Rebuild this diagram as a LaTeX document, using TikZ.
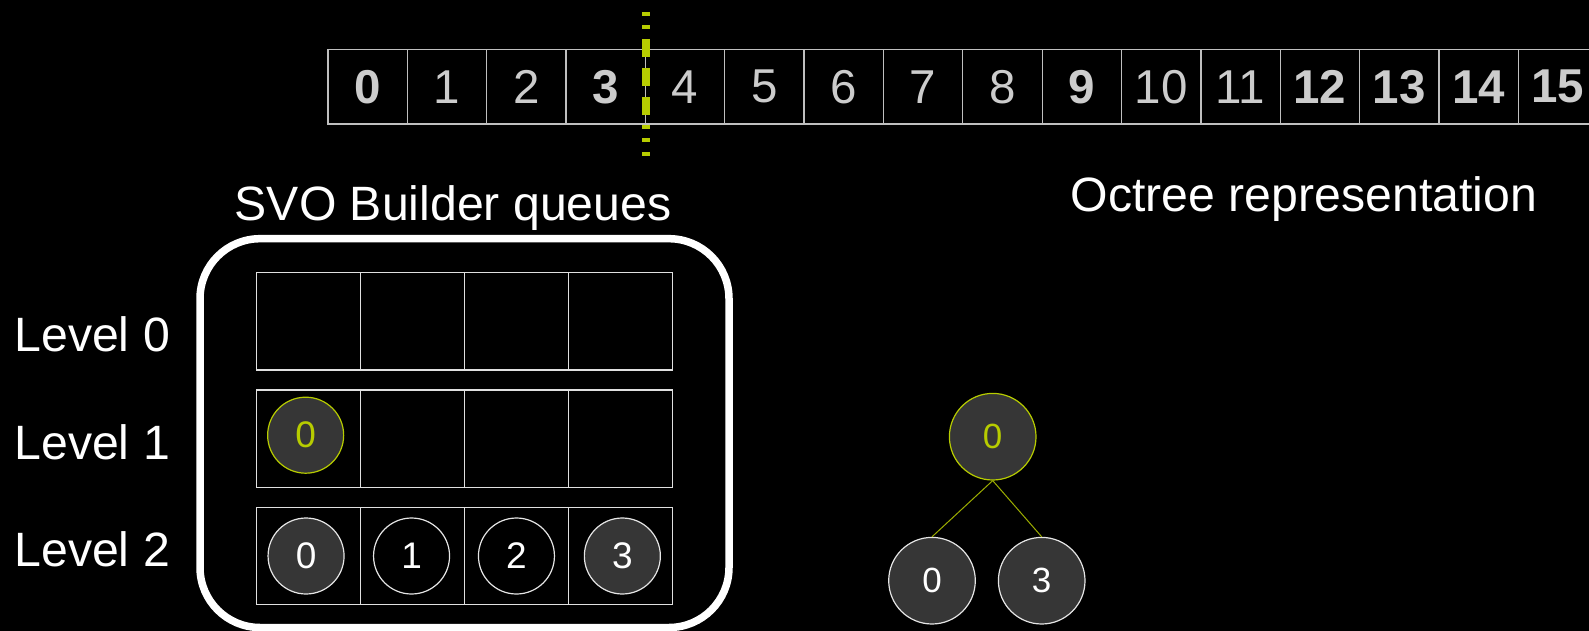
\documentclass[tikz,border=0pt]{standalone}
\usepackage{fontspec}
\setmainfont{Liberation Sans}
\definecolor{vgreen}{RGB}{183,204,0}
\definecolor{ballgray}{RGB}{54,54,54}
\definecolor{numgray}{RGB}{204,204,204}
\newcommand{\stripfont}{\fontsize{47.5}{56}\selectfont}
\newcommand{\titlefont}{\fontsize{48.2}{57}\selectfont}
\newcommand{\ballfont}{\fontsize{37}{44}\selectfont}
\tikzset{
  slot/.style={draw=white!75!black, line width=1.3pt, minimum width=79.35pt,
    minimum height=74.7pt, inner sep=0pt, text=numgray, font=\stripfont},
  numbold/.style={font=\stripfont\bfseries},
  qcell/.style={draw=white!88!black, line width=1.4pt, minimum width=103.9pt,
    minimum height=97.5pt, inner sep=0pt},
  ball/.style={circle, draw=white!90!black, line width=1.2pt, minimum size=76pt,
    inner sep=0pt, text=white, font=\ballfont},
  ballfill/.style={fill=ballgray},
  lit/.style={draw=vgreen, text=vgreen},
  octnode/.style={ball, ballfill, minimum size=86.6pt, font=\fontsize{35}{42}\selectfont},
  title/.style={anchor=base west, inner sep=0pt, text=white, font=\titlefont},
}
\begin{document}
\begin{tikzpicture}[x=1pt,y=-1pt]
  \fill[black] (0,0) rectangle (1589,631);
  \useasboundingbox (0,0) rectangle (1589,631);

  % index strip
  \foreach \i/\s in {0/numbold,1/,2/,3/numbold,4/,5/,6/,7/,8/,9/numbold,
      10/,11/,12/numbold,13/numbold,14/numbold,15/numbold}
    \node[slot,\s] (c\i) at ({328+79.35*(\i+0.5)},86.7) {\i};

  % split marker
  \draw[vgreen, line width=8pt, dash pattern=on 4pt off 9.3pt] (645.7,12) -- (645.7,30);
  \draw[vgreen, line width=8pt, dash pattern=on 18pt off 11pt] (645.7,39) -- (645.7,115);
  \draw[vgreen, line width=8pt, dash pattern=on 4pt off 9.5pt] (645.7,125) -- (645.7,157);

  % titles
  \node[title] (svo) at (234.5,220) {SVO Builder queues};
  \node[title] (oct) at (1070.7,211.5) {Octree representation};

  % queues
  \draw[white, line width=7.5pt, rounded corners=60pt] (200,238.7) rectangle (729,627.5);
  \foreach \r/\y in {0/321.2,1/438.7,2/556}
    \foreach \c in {0,...,3}
      \node[qcell] (q\r\c) at ({256.7+103.9*(\c+0.5)},\y) {};

  \node[title] (lv0) at (14.3,351.7) {Level 0};
  \node[title] (lv1) at (14.3,459.3) {Level 1};
  \node[title] (lv2) at (14.3,566.7) {Level 2};

  \node[ball,ballfill,lit] (b10) at ([shift={(-3,-3.5)}]q10) {0};
  \node[ball,ballfill] (b20) at ([xshift=-2.6pt]q20) {0};
  \node[ball] (b21) at ([xshift=-1pt]q21) {1};
  \node[ball] (b22) at (q22) {2};
  \node[ball,ballfill] (b23) at ([xshift=2pt]q23) {3};

  % octree
  \node[octnode,lit] (root) at (992.7,436.7) {0};
  \node[octnode] (ch0) at (932,580.7) {0};
  \node[octnode] (ch3) at (1041.7,580.7) {3};
  \draw[vgreen!85!black, line width=1pt] (root.south) -- (ch0.north);
  \draw[vgreen!85!black, line width=1pt] (root.south) -- (ch3.north);
\end{tikzpicture}
\end{document}
